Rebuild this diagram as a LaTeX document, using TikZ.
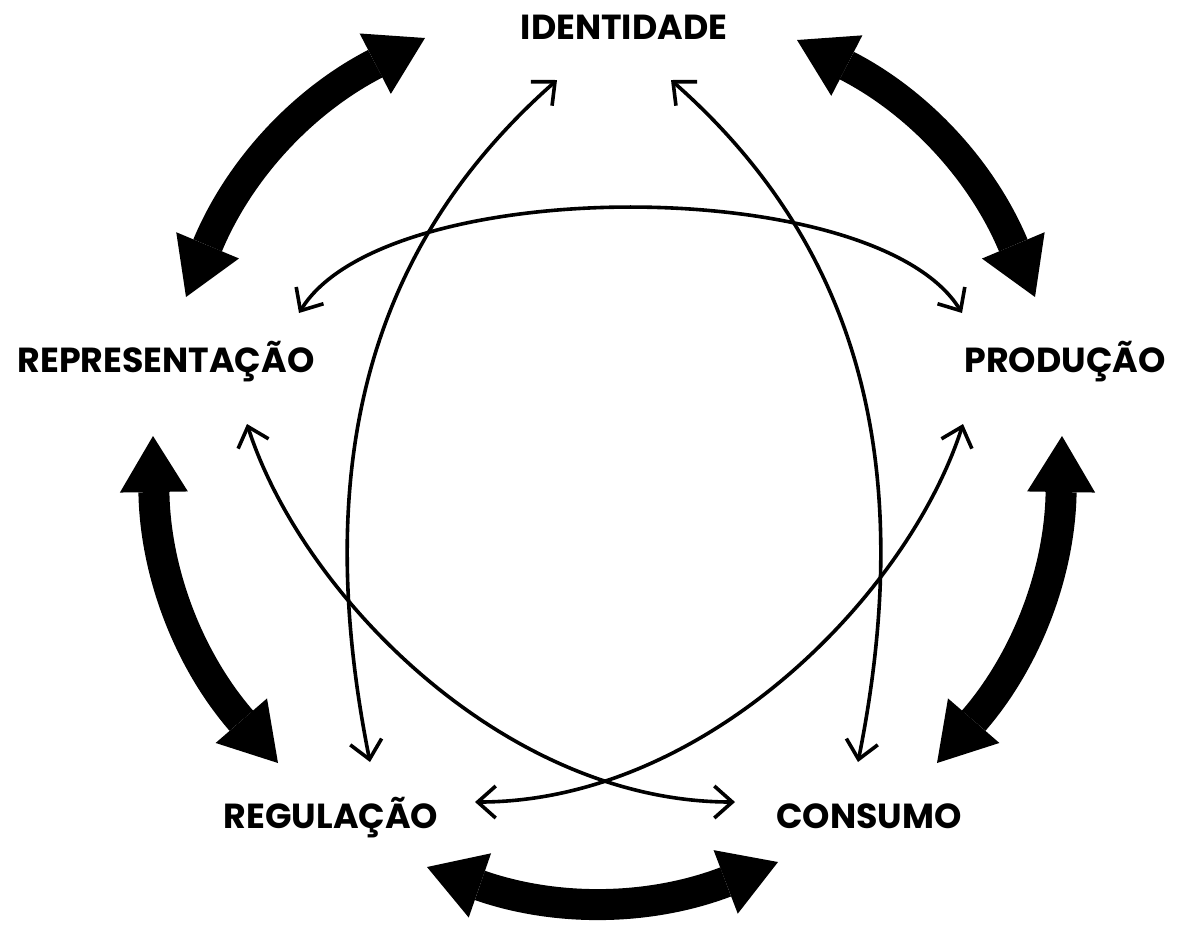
\documentclass[tikz,border=0pt]{standalone}
\usepackage{fontspec}
\setmainfont{Poppins}
\usepackage{tikz}
\usetikzlibrary{arrows.meta, positioning}

\begin{document}
\begin{tikzpicture}[
    x=0.5pt, y=-0.5pt,
    term/.style={font=\fontsize{17.4}{20}\selectfont\bfseries, anchor=base, inner sep=0pt},
    bigarrow/.style={{Triangle[length=28pt, width=34pt, line width=0pt]}-{Triangle[length=28pt, width=34pt, line width=0pt]}, line width=15.5pt},
    thinarrow/.style={{Straight Barb[length=9pt, width=16pt]}-{Straight Barb[length=9pt, width=16pt]}, line width=1.8pt}
]
    \useasboundingbox (0,0) rectangle (1181,933);

    % Terms of the circuit
    \node[term] (iden) at (624,39) {IDENTIDADE};
    \node[term] (repr) at (166,372) {REPRESENTAÇÃO};
    \node[term] (prod) at (1065,372) {PRODUÇÃO};
    \node[term] (regu) at (331,828) {REGULAÇÃO};
    \node[term] (cons) at (869,828) {CONSUMO};

    % Ends of the outer arrows
    \coordinate (reprA) at (186,297);
    \coordinate (idenA) at (425,38);
    \coordinate (idenB) at (797,40);
    \coordinate (prodA) at (1035,297);
    \coordinate (prodB) at (1062,436);
    \coordinate (consA) at (937,763);
    \coordinate (consB) at (778,862);
    \coordinate (reguA) at (427,867);
    \coordinate (reguB) at (278,763);
    \coordinate (reprB) at (153,436);

    % Outer arrows
    \draw[bigarrow] (reprA) to[bend left=20] (idenA);
    \draw[bigarrow] (idenB) to[bend left=20] (prodA);
    \draw[bigarrow] (prodB) to[bend left=20] (consA);
    \draw[bigarrow] (consB) to[bend left=20] (reguA);
    \draw[bigarrow] (reguB) to[bend left=20] (reprB);

    % Ends of the inner arrows
    \coordinate (idenC) at (557,80);
    \coordinate (idenD) at (671,80);
    \coordinate (reprC) at (299,313);
    \coordinate (reprD) at (247,424);
    \coordinate (prodC) at (962,313);
    \coordinate (prodD) at (963,424);
    \coordinate (reguC) at (370,762);
    \coordinate (reguD) at (475,802);
    \coordinate (consC) at (858,762);
    \coordinate (consD) at (735,802);

    % Inner arrows
    \draw[thinarrow] (reguC) .. controls (310,462) and (370,245) .. (idenC);
    \draw[thinarrow] (consC) .. controls (918,462) and (858,245) .. (idenD);
    \draw[thinarrow] (reprC) .. controls (385,173) and (876,173) .. (prodC);
    \draw[thinarrow] (reprD) .. controls (302,595) and (505,802) .. (consD);
    \draw[thinarrow] (prodD) .. controls (908,595) and (705,802) .. (reguD);
\end{tikzpicture}
\end{document}
